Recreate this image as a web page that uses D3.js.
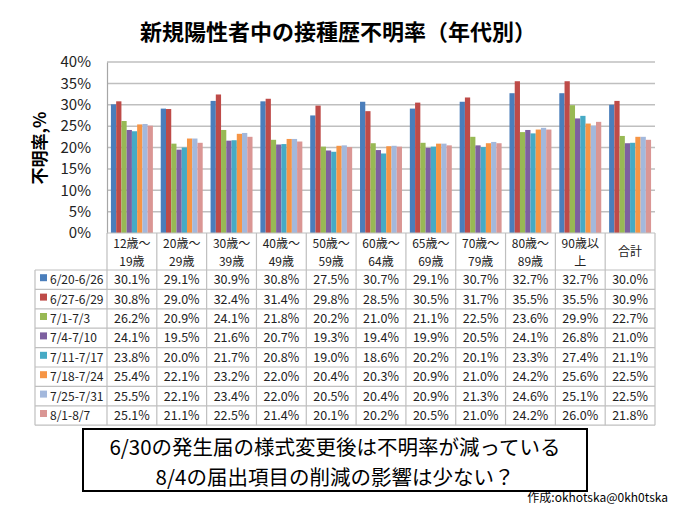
<!DOCTYPE html>
<html><head><meta charset="utf-8">
<script src="https://cdn.jsdelivr.net/npm/d3@7"></script>
<style>body{margin:0;background:#fff}svg{display:block}text{font-family:"Noto Sans CJK JP","Noto Sans",sans-serif}</style>
</head><body>
<script>
const categories = [["12歳～","19歳"],["20歳～","29歳"],["30歳～","39歳"],["40歳～","49歳"],["50歳～","59歳"],["60歳～","64歳"],["65歳～","69歳"],["70歳～","79歳"],["80歳～","89歳"],["90歳以","上"],["合計"]];
const seriesNames = ["6/20-6/26","6/27-6/29","7/1-7/3","7/4-7/10","7/11-7/17","7/18-7/24","7/25-7/31","8/1-8/7"];
const s1 = [30.1,29.1,30.9,30.8,27.5,30.7,29.1,30.7,32.7,32.7,30.0];
const s2 = [30.8,29.0,32.4,31.4,29.8,28.5,30.5,31.7,35.5,35.5,30.9];
const s3 = [26.2,20.9,24.1,21.8,20.2,21.0,21.1,22.5,23.6,29.9,22.7];
const s4 = [24.1,19.5,21.6,20.7,19.3,19.4,19.9,20.5,24.1,26.8,21.0];
const s5 = [23.8,20.0,21.7,20.8,19.0,18.6,20.2,20.1,23.3,27.4,21.1];
const s6 = [25.4,22.1,23.2,22.0,20.4,20.3,20.9,21.0,24.2,25.6,22.5];
const s7 = [25.5,22.1,23.4,22.0,20.5,20.4,20.9,21.3,24.6,25.1,22.5];
const s8 = [25.1,21.1,22.5,21.4,20.1,20.2,20.5,21.0,24.2,26.0,21.8];
const yTicks = [0,5,10,15,20,25,30,35,40];
const colors = ["#4A7EBB","#BE4B48","#98B954","#7D60A0","#46AAC5","#F69545","#A3B8DC","#DA9694"];
const series = [s1,s2,s3,s4,s5,s6,s7,s8];
const title = "新規陽性者中の接種歴不明率（年代別）";
const yLabel = "不明率,%";
const note1 = "6/30の発生届の様式変更後は不明率が減っている";
const note2 = "8/4の届出項目の削減の影響は少ない？";
const author = "作成:okhotska@0kh0tska";

const W = 680, H = 510;
const svg = d3.select("body").append("svg").attr("width", W).attr("height", H);

const L = 107, R = 655, T = 62, B = 233;
const x0 = d3.scaleBand().domain(d3.range(categories.length)).range([L, R]);
const x1 = d3.scaleBand().domain(d3.range(series.length)).range([0, x0.bandwidth()]).paddingOuter(0.75);
const y = d3.scaleLinear().domain([0, 40]).range([B, T]);

// title
svg.append("text").attr("x", 338).attr("y", 40).attr("text-anchor", "middle")
  .attr("font-size", 22).attr("font-weight", "bold").attr("fill", "#000").text(title);

// gridlines
svg.append("g").selectAll("line").data(yTicks.filter(d => d > 0)).join("line")
  .attr("x1", L).attr("x2", R).attr("y1", d => y(d)).attr("y2", d => y(d))
  .attr("stroke", "#BFBFBF").attr("stroke-width", 1.5);

// y axis
const yAxis = d3.axisLeft(y).tickValues(yTicks).tickFormat(d => d + "%").tickSize(0).tickPadding(16);
const ga = svg.append("g").attr("transform", `translate(${L},0)`).call(yAxis);
ga.select(".domain").attr("stroke", "#A6A6A6").attr("stroke-width", 1.2);
ga.selectAll("text").attr("font-size", 15).attr("fill", "#222")
  .style("font-family", '"Noto Sans CJK JP",sans-serif');

svg.append("text").attr("transform", "translate(46,148) rotate(-90)").attr("text-anchor", "middle")
  .attr("font-size", 17).attr("font-weight", "bold").text(yLabel);

// bars
series.forEach((s, si) => {
  svg.append("g").selectAll("rect").data(s).join("rect")
    .attr("x", (d, i) => x0(i) + x1(si))
    .attr("y", d => y(d))
    .attr("width", x1.bandwidth())
    .attr("height", d => B - y(d))
    .attr("fill", colors[si]);
});

// table
const tLeft = 35, hdrBottom = 270, rowH = 19.4;
const tBottom = hdrBottom + rowH * series.length;
const grid = svg.append("g").attr("stroke", "#BFBFBF").attr("stroke-width", 1.2).attr("fill", "none");
d3.range(categories.length + 1).forEach(i => {
  const xx = i === categories.length ? R : x0(i);
  grid.append("line").attr("x1", xx).attr("x2", xx).attr("y1", B).attr("y2", tBottom);
});
grid.append("line").attr("x1", tLeft).attr("x2", tLeft).attr("y1", hdrBottom).attr("y2", tBottom);
grid.append("line").attr("x1", L).attr("x2", R).attr("y1", B).attr("y2", B);
d3.range(series.length + 1).forEach(r => {
  const yy = hdrBottom + r * rowH;
  grid.append("line").attr("x1", tLeft).attr("x2", R).attr("y1", yy).attr("y2", yy);
});

// header labels
categories.forEach((c, i) => {
  const cx = x0(i) + x0.bandwidth() / 2;
  const t = svg.append("text").attr("text-anchor", "middle").attr("font-size", 12).attr("fill", "#222");
  if (c.length === 2) {
    t.append("tspan").attr("x", cx).attr("y", 248).text(c[0]);
    t.append("tspan").attr("x", cx).attr("y", 266).text(c[1]);
  } else {
    t.attr("x", cx).attr("y", 256).text(c[0]);
  }
});

// rows
series.forEach((s, si) => {
  const cy = hdrBottom + si * rowH + rowH / 2 + 4.5;
  svg.append("rect").attr("x", 40).attr("y", cy - 10).attr("width", 7).attr("height", 7).attr("fill", colors[si]);
  svg.append("text").attr("x", 50).attr("y", cy).attr("font-size", 12).attr("fill", "#222").text(seriesNames[si]);
  svg.append("g").selectAll("text").data(s).join("text")
    .attr("x", (d, i) => x0(i) + x0.bandwidth() / 2).attr("y", cy)
    .attr("text-anchor", "middle").attr("font-size", 12.5).attr("fill", "#222")
    .text(d => d.toFixed(1) + "%");
});

// note box
svg.append("rect").attr("x", 83).attr("y", 429).attr("width", 504).attr("height", 62)
  .attr("fill", "#fff").attr("stroke", "#000").attr("stroke-width", 2);
svg.append("text").attr("x", 335).attr("y", 455).attr("text-anchor", "middle").attr("font-size", 20.5).text(note1);
svg.append("text").attr("x", 335).attr("y", 485).attr("text-anchor", "middle").attr("font-size", 20.5).text(note2);
svg.append("text").attr("x", 668).attr("y", 502).attr("text-anchor", "end").attr("font-size", 12).text(author);
</script>
</body></html>
